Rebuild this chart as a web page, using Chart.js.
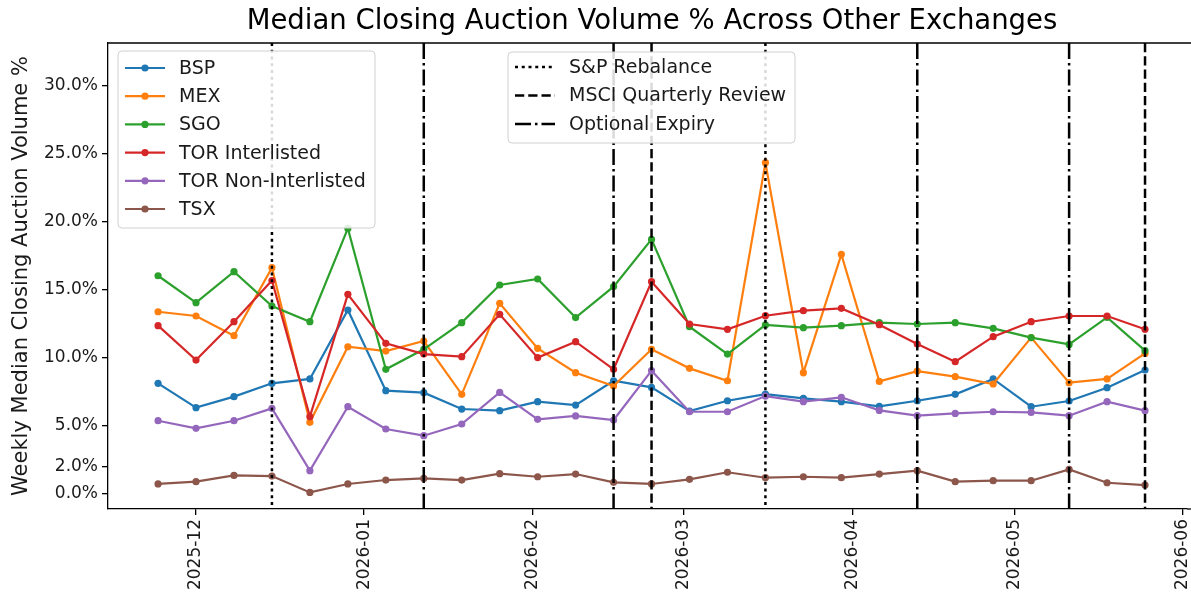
<!DOCTYPE html>
<html lang="en">
<head>
    <meta charset="UTF-8">
    <title>Median Closing Auction Volume</title>
    <script src="https://cdn.jsdelivr.net/npm/chart.js"></script>
    <style>
        body { margin: 0; background: #fff; }
        #wrap { width: 1191px; height: 608px; }
    </style>
</head>
<body>
    <div id="wrap"><canvas id="myChart"></canvas></div>
<script>
    // weekly dates (Mondays)
    var dates = ['2025-11-24', '2025-12-01', '2025-12-08', '2025-12-15', '2025-12-22', '2025-12-29',
        '2026-01-05', '2026-01-12', '2026-01-19', '2026-01-26', '2026-02-02', '2026-02-09',
        '2026-02-16', '2026-02-23', '2026-03-02', '2026-03-09', '2026-03-16', '2026-03-23',
        '2026-03-30', '2026-04-06', '2026-04-13', '2026-04-20', '2026-04-27', '2026-05-04',
        '2026-05-11', '2026-05-18', '2026-05-25']

    var seriesNames = ['BSP', 'MEX', 'SGO', 'TOR Interlisted', 'TOR Non-Interlisted', 'TSX']
    var seriesColors = ['#1f77b4', '#ff7f0e', '#2ca02c', '#d62728', '#9467bd', '#8c564b']

    var bsp = [8.14, 6.35, 7.16, 8.14, 8.46, 13.53, 7.6, 7.45, 6.25, 6.13, 6.79, 6.54, 8.33, 7.84, 6.1, 6.86, 7.35, 7.03, 6.79, 6.45, 6.86, 7.33, 8.46, 6.42, 6.84, 7.82, 9.12]
    var mex = [13.4, 13.09, 11.64, 16.64, 5.27, 10.83, 10.51, 11.25, 7.33, 14.02, 10.71, 8.92, 7.94, 10.64, 9.24, 8.33, 24.36, 8.92, 17.62, 8.28, 9.04, 8.63, 8.09, 11.5, 8.19, 8.46, 10.34]
    var sgo = [16.05, 14.07, 16.35, 13.82, 12.67, 19.53, 9.17, 10.64, 12.6, 15.37, 15.81, 12.97, 15.25, 18.72, 12.3, 10.29, 12.43, 12.23, 12.38, 12.6, 12.5, 12.6, 12.18, 11.5, 11.0, 12.99, 10.54]
    var torInter = [12.38, 9.85, 12.67, 15.7, 5.69, 14.68, 11.08, 10.29, 10.1, 13.21, 10.03, 11.2, 9.17, 15.61, 12.5, 12.11, 13.11, 13.48, 13.65, 12.45, 11.03, 9.73, 11.57, 12.67, 13.09, 13.09, 12.11]
    var torNon = [5.39, 4.83, 5.39, 6.3, 1.72, 6.42, 4.78, 4.29, 5.15, 7.47, 5.49, 5.74, 5.44, 9.07, 6.05, 6.05, 7.2, 6.79, 7.11, 6.15, 5.76, 5.93, 6.05, 6.0, 5.76, 6.79, 6.13]
    var tsx = [0.74, 0.91, 1.37, 1.32, 0.12, 0.74, 1.03, 1.15, 1.03, 1.5, 1.27, 1.47, 0.86, 0.74, 1.08, 1.6, 1.2, 1.27, 1.2, 1.47, 1.72, 0.91, 0.98, 0.98, 1.81, 0.83, 0.66]
    var allSeries = [bsp, mex, sgo, torInter, torNon, tsx]

    // event lines
    var spDates = ['2025-12-15', '2026-03-16']
    var msciDates = ['2026-02-23', '2026-05-25']
    var optDates = ['2026-01-12', '2026-02-16', '2026-04-13', '2026-05-11']
    var eventNames = ['S&P Rebalance', 'MSCI Quarterly Review', 'Optional Expiry']

    var yTicks = [0, 2, 5, 10, 15, 20, 25, 30]
    var xTickLabels = ['2025-12', '2026-01', '2026-02', '2026-03', '2026-04', '2026-05', '2026-06']

    var titleText = 'Median Closing Auction Volume % Across Other Exchanges'
    var yTitle = 'Weekly Median Closing Auction Volume %'
    var fontFam = '"DejaVu Sans", sans-serif'

    function toDay(s) {
        return Date.parse(s + 'T00:00:00Z') / 86400000
    }

    var lw = 2.5
    var eventStyles = [
        { dates: spDates, dash: [1.2 * lw, 1.5 * lw] },
        { dates: msciDates, dash: [3.7 * lw, 1.6 * lw] },
        { dates: optDates, dash: [6.4 * lw, 1.6 * lw, 1 * lw, 1.6 * lw] }
    ]

    let datasets = []
    for (var i = 0; i < allSeries.length; i++) {
        datasets.push({
            label: seriesNames[i],
            data: dates.map(function (d, j) { return { x: toDay(d), y: allSeries[i][j] } }),
            borderColor: seriesColors[i],
            backgroundColor: seriesColors[i],
            borderWidth: 2.2,
            pointRadius: 3.6,
            pointBorderWidth: 0,
            tension: 0,
            order: allSeries.length - i
        })
    }

    const extras = {
        id: 'extras',
        afterDatasetsDraw(chart) {
            const ctx = chart.ctx
            const a = chart.chartArea
            const xs = chart.scales.x
            ctx.save()
            ctx.strokeStyle = '#000'
            ctx.lineWidth = lw
            eventStyles.forEach(function (st) {
                ctx.setLineDash(st.dash)
                st.dates.forEach(function (d) {
                    var px = xs.getPixelForValue(toDay(d))
                    ctx.beginPath()
                    ctx.moveTo(px, a.top)
                    ctx.lineTo(px, a.bottom)
                    ctx.stroke()
                })
            })
            ctx.restore()
        },
        afterDraw(chart) {
            const ctx = chart.ctx
            const a = chart.chartArea
            ctx.save()
            // top spine
            ctx.strokeStyle = '#000'
            ctx.lineWidth = 1.3
            ctx.beginPath()
            ctx.moveTo(a.left, a.top)
            ctx.lineTo(1191, a.top)
            ctx.stroke()
            ctx.beginPath()
            ctx.moveTo(a.right, a.bottom)
            ctx.lineTo(1191, a.bottom)
            ctx.stroke()

            // title, centred over the axes (right spine is just off canvas)
            ctx.fillStyle = '#000'
            ctx.font = '27.5px ' + fontFam
            ctx.textAlign = 'center'
            ctx.textBaseline = 'middle'
            ctx.fillText(titleText, 652, 22)

            // legend boxes
            function box(x, y, w, h) {
                ctx.setLineDash([])
                ctx.fillStyle = 'rgba(255,255,255,0.85)'
                ctx.strokeStyle = '#d0d0d0'
                ctx.lineWidth = 1
                ctx.beginPath()
                ctx.roundRect(x, y, w, h, 4)
                ctx.fill()
                ctx.stroke()
            }
            ctx.font = '19px ' + fontFam
            ctx.textAlign = 'left'

            var lx = a.left + 10, ly = a.top + 8
            box(lx, ly, 257, 177)
            for (var i = 0; i < seriesNames.length; i++) {
                var yy = ly + 17 + i * 28.2
                ctx.strokeStyle = seriesColors[i]
                ctx.fillStyle = seriesColors[i]
                ctx.lineWidth = 2.2
                ctx.beginPath()
                ctx.moveTo(lx + 7, yy)
                ctx.lineTo(lx + 47, yy)
                ctx.stroke()
                ctx.beginPath()
                ctx.arc(lx + 27, yy, 3.6, 0, Math.PI * 2)
                ctx.fill()
                ctx.fillStyle = '#1a1a1a'
                ctx.fillText(seriesNames[i], lx + 61, yy + 1)
            }

            var ex = 508, ey = a.top + 9
            box(ex, ey, 287, 91)
            for (var k = 0; k < eventNames.length; k++) {
                var y2 = ey + 15 + k * 28.5
                ctx.strokeStyle = '#000'
                ctx.lineWidth = lw
                ctx.setLineDash(eventStyles[k].dash)
                ctx.beginPath()
                ctx.moveTo(ex + 7, y2)
                ctx.lineTo(ex + 47, y2)
                ctx.stroke()
                ctx.setLineDash([])
                ctx.fillStyle = '#1a1a1a'
                ctx.fillText(eventNames[k], ex + 61, y2 + 1)
            }
            ctx.restore()
        }
    }

    const config = {
        type: 'line',
        data: { datasets: datasets },
        options: {
            responsive: true,
            maintainAspectRatio: false,
            animation: false,
            layout: { padding: { top: 43, left: 0, right: 0, bottom: 0 } },
            plugins: {
                legend: { display: false },
                title: { display: false },
                tooltip: { enabled: false }
            },
            scales: {
                x: {
                    type: 'linear',
                    min: toDay(dates[0]) - 9.23,
                    max: toDay(dates[dates.length - 1]) + 7.74,
                    afterBuildTicks: function (scale) {
                        scale.ticks = xTickLabels.map(function (m) { return { value: toDay(m + '-01') } })
                    },
                    afterFit: function (scale) {
                        scale.height = 99
                        scale.paddingLeft = 0
                        scale.paddingRight = 0
                    },
                    ticks: {
                        autoSkip: false,
                        minRotation: 90,
                        maxRotation: 90,
                        padding: 4,
                        color: '#1a1a1a',
                        font: { family: fontFam, size: 17 },
                        callback: function (v, idx) { return xTickLabels[idx] }
                    },
                    grid: { drawOnChartArea: false, drawTicks: true, tickLength: 6, color: '#000', lineWidth: 1.3 },
                    border: { display: true, color: '#000', width: 1.3 }
                },
                y: {
                    type: 'linear',
                    min: -1.1,
                    max: 33.16,
                    afterBuildTicks: function (scale) {
                        scale.ticks = yTicks.map(function (v) { return { value: v } })
                    },
                    afterFit: function (scale) {
                        scale.width = 108
                        scale.paddingTop = 0
                        scale.paddingBottom = 0
                    },
                    ticks: {
                        autoSkip: false,
                        padding: 4,
                        color: '#1a1a1a',
                        font: { family: fontFam, size: 17 },
                        callback: function (v) { return v.toFixed(1) + '%' }
                    },
                    title: {
                        display: true,
                        text: yTitle,
                        color: '#1a1a1a',
                        font: { family: fontFam, size: 21 },
                        padding: { top: 9, bottom: 0 }
                    },
                    grid: { drawOnChartArea: false, drawTicks: true, tickLength: 6, color: '#000', lineWidth: 1.3 },
                    border: { display: true, color: '#000', width: 1.3 }
                }
            }
        },
        plugins: [extras]
    }

    let myChart = new Chart(document.getElementById('myChart'), config)
</script>
</body>
</html>
